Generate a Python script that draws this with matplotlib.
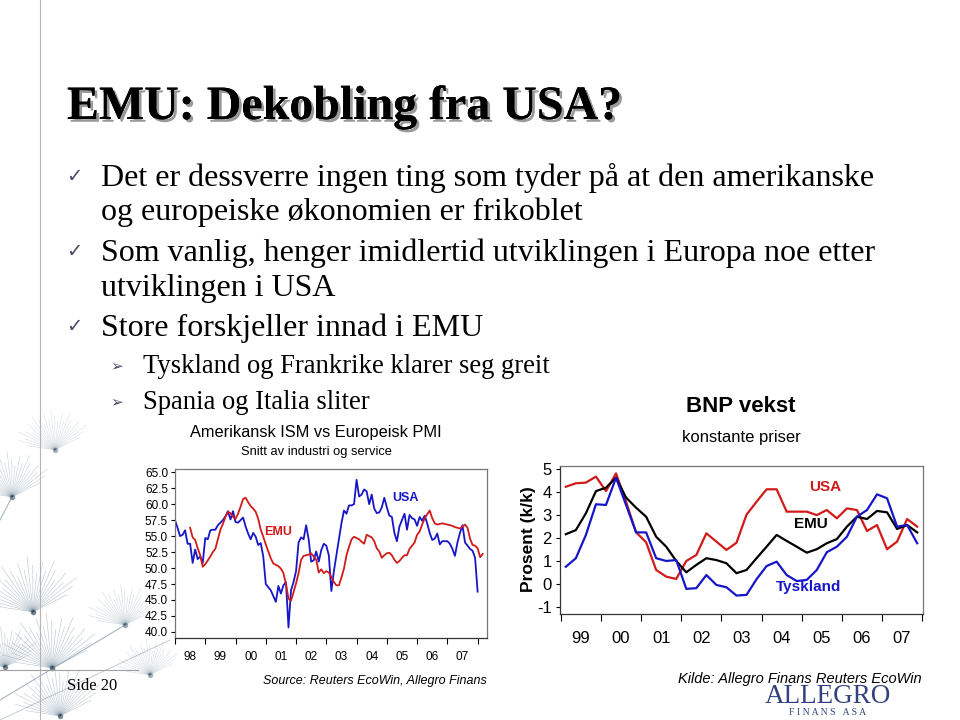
import numpy as np
import matplotlib.pyplot as plt
import matplotlib.patheffects as pe

# --- left chart: ISM (USA) vs PMI (EMU), monthly from Jan 1998 ---
ism_usa = [57.5, 56.3, 55.0, 55.2, 55.9, 53.8, 53.8, 50.8, 52.9, 51.4, 51.8, 50.8,
           54.7, 54.5, 55.9, 56.0, 56.0, 56.7, 57.1, 57.5, 58.1, 58.9, 57.6, 58.9,
           57.2, 57.1, 57.5, 57.9, 56.5, 55.4, 54.5, 55.5, 54.9, 53.6, 53.9, 51.8,
           47.5, 47.0, 46.5, 45.6, 44.7, 47.2, 46.0, 47.3, 47.8, 40.7, 46.5, 47.8,
           49.5, 54.0, 54.8, 54.5, 56.7, 54.5, 51.0, 51.2, 52.6, 51.0, 52.8, 53.8,
           53.5, 52.0, 46.4, 49.5, 52.0, 54.5, 57.0, 59.0, 58.5, 59.8, 59.8, 60.0,
           63.8, 61.2, 61.5, 62.3, 62.0, 60.0, 61.5, 59.3, 58.6, 58.7, 59.5, 61.0,
           59.5, 58.2, 58.0, 55.5, 54.2, 56.5, 57.5, 58.5, 56.0, 58.3, 57.8, 57.6,
           56.6, 58.0, 57.4, 58.2, 57.0, 55.5, 54.4, 54.6, 55.4, 53.7, 54.2, 54.2,
           54.2, 53.8, 53.0, 51.9, 54.0, 55.5, 56.7, 54.0, 53.5, 53.0, 52.7, 51.6,
           46.3]
# EMU PMI starts Jul 1998
pmi_emu_start = 6
pmi_emu = [56.3, 54.8, 54.4, 53.1, 52.0, 50.2,
           50.6, 51.2, 51.8, 52.5, 53.0, 54.5, 56.0, 56.9, 58.0, 58.8, 58.6, 58.0,
           57.7, 58.5, 59.6, 60.8, 61.0, 60.3, 59.7, 59.3, 58.8, 57.7, 56.0, 54.9,
           53.7, 52.6, 51.5, 50.7, 50.5, 50.3, 49.9, 49.2, 47.5, 45.2, 44.9, 46.2,
           47.6, 49.2, 51.3, 51.9, 52.0, 52.1, 52.3, 51.8, 51.3, 49.3, 49.8, 49.2,
           49.5, 49.3, 48.6, 47.8, 47.3, 47.3, 48.5, 49.9, 52.0, 53.3, 54.5, 54.9,
           54.7, 54.5, 54.1, 53.8, 55.2, 55.0, 54.8, 54.2, 53.1, 52.6, 51.6, 52.0,
           52.3, 52.4, 52.0, 51.3, 50.8, 51.1, 51.6, 52.0, 52.0, 53.0, 53.5, 54.0,
           55.2, 55.7, 56.8, 57.8, 58.4, 59.0, 57.8, 57.0, 56.8, 56.9, 57.0, 56.9,
           56.8, 56.7, 56.6, 56.4, 56.3, 56.2, 56.5, 56.8, 56.3, 54.6, 53.6, 53.5,
           53.1, 51.7, 52.2]
left_years = ['98', '99', '00', '01', '02', '03', '04', '05', '06', '07']
left_yticks = [40.0, 42.5, 45.0, 47.5, 50.0, 52.5, 55.0, 57.5, 60.0, 62.5, 65.0]

# --- right chart: BNP vekst, quarterly 1999Q1-2007Q4 ---
gdp_usa = [4.23, 4.38, 4.41, 4.67, 4.04, 4.81, 3.58, 2.25, 1.82, 0.62, 0.33, 0.23,
           1.01, 1.27, 2.21, 1.85, 1.49, 1.80, 3.02, 3.58, 4.12, 4.12, 3.15, 3.15,
           3.15, 3.00, 3.22, 2.86, 3.29, 3.22, 2.31, 2.57, 1.52, 1.85, 2.83, 2.50]
gdp_emu = [2.17, 2.35, 3.08, 4.04, 4.19, 4.62, 3.76, 3.32, 2.93, 2.06, 1.63, 1.01,
           0.52, 0.84, 1.13, 1.05, 0.91, 0.48, 0.62, 1.13, 1.63, 2.14, 1.88, 1.63,
           1.37, 1.52, 1.78, 1.96, 2.50, 2.93, 2.83, 3.18, 3.12, 2.40, 2.57, 2.25]
gdp_ger = [0.76, 1.13, 2.14, 3.47, 3.44, 4.62, 3.44, 2.25, 2.25, 1.13, 1.01, 1.05,
           -0.20, -0.17, 0.40, -0.03, -0.13, -0.49, -0.46, 0.22, 0.79, 0.98, 0.40, 0.14,
           0.19, 0.62, 1.39, 1.63, 2.06, 2.93, 3.22, 3.90, 3.73, 2.50, 2.57, 1.78]
right_years = ['99', '00', '01', '02', '03', '04', '05', '06', '07']
right_yticks = [-1, 0, 1, 2, 3, 4, 5]

bullets = [['Det er dessverre ingen ting som tyder på at den amerikanske',
            'og europeiske økonomien er frikoblet'],
           ['Som vanlig, henger imidlertid utviklingen i Europa noe etter',
            'utviklingen i USA'],
           ['Store forskjeller innad i EMU']]
sub_bullets = ['Tyskland og Frankrike klarer seg greit', 'Spania og Italia sliter']

BLUE = '#1616c8'
RED = '#d21a1a'
SERIF = 'Liberation Serif'
SANS = 'Liberation Sans'

fig = plt.figure(figsize=(9.6, 7.2), dpi=100)
bg = fig.add_axes([0, 0, 1, 1])
bg.set_xlim(0, 960)
bg.set_ylim(720, 0)
bg.axis('off')

# faint dandelion seeds in the lower left corner (decoration)
seed_heads = [(55, 450, 40, 0.30), (12, 497, 45, 0.45), (33, 612, 55, 0.55),
              (125, 625, 40, 0.35), (52, 668, 55, 0.55), (5, 667, 40, 0.5),
              (60, 716, 50, 0.5), (150, 675, 35, 0.3)]
fan = np.linspace(np.pi * 0.15, np.pi * 0.95, 26)
for cx, cy, r, a in seed_heads:
    for k, ang in enumerate(fan):
        rr = r * (0.7 + 0.3 * ((k * 7) % 5) / 4)
        bg.plot([cx, cx + rr * np.cos(ang)], [cy, cy - rr * np.sin(ang)],
                color='#4f6f86', lw=0.5, alpha=a * 0.6, zorder=0)
    bg.plot([cx], [cy], 'o', ms=3, color='#2c3e4c', alpha=a, zorder=0)
bg.plot([0, 125], [700, 625], color='#4f6f86', lw=0.8, alpha=0.5, zorder=0)
bg.plot([0, 170], [720, 640], color='#4f6f86', lw=0.6, alpha=0.4, zorder=0)
bg.plot([0, 12], [520, 497], color='#4f6f86', lw=0.8, alpha=0.5, zorder=0)

# slide frame lines
bg.plot([40, 40], [0, 720], color='#b4b4b4', lw=0.8)
bg.plot([0, 138], [670, 670], color='#a0a0a0', lw=0.8)

# slide title with shadow
bg.text(67, 119, 'EMU: Dekobling fra USA?', family=SERIF, weight='bold',
        fontsize=34.5, color='black', va='baseline',
        path_effects=[pe.withSimplePatchShadow(offset=(2, -2), shadow_rgbFace='#9a9a9a', alpha=1),
                      pe.Normal()])

# bullets
line_y = [[186, 220], [261, 296], [336]]
for ys, lines in zip(line_y, bullets):
    bg.text(66, ys[0] - 4, '\u2713', family='DejaVu Sans', fontsize=14,
            color='#4a4a6a', va='baseline')
    for y, txt in zip(ys, lines):
        bg.text(101, y, txt, family=SERIF, fontsize=23, va='baseline')
for y, txt in zip([373, 409], sub_bullets):
    bg.text(110, y - 3, '\u27a2', family='DejaVu Sans', fontsize=11,
            color='#4a4a6a', va='baseline')
    bg.text(143, y, txt, family=SERIF, fontsize=19.2, va='baseline')

bg.text(67, 690, 'Side 20', family=SERIF, fontsize=12, va='baseline')

# logo (partly hidden behind the source text)
bg.text(828, 703, 'ALLEGRO', family=SERIF, fontsize=19.5, color='#33427e', ha='center', va='baseline')
bg.text(828, 715, 'F I N A N S   A S A', family=SERIF, fontsize=7, color='#33427e', ha='center', va='baseline')

# ---------- left chart ----------
ax1 = fig.add_axes([175 / 960, 82 / 720, 312 / 960, 169 / 720])
t_usa = 1998 + np.arange(len(ism_usa)) / 12
t_emu = 1998 + (pmi_emu_start + np.arange(len(pmi_emu))) / 12
ax1.plot(t_usa, ism_usa, color=BLUE, lw=1.3)
ax1.plot(t_emu, pmi_emu, color=RED, lw=1.3)
ax1.set_xlim(1998, 2008.31)
ax1.set_ylim(39.05, 65.5)
ax1.set_yticks(left_yticks)
ax1.set_yticklabels([f'{v:.1f}' for v in left_yticks], family=SANS, fontsize=8.5)
ax1.set_xticks(np.arange(1998, 2009))
ax1.set_xticklabels([])
ax1.set_xticks(1998.5 + np.arange(len(left_years)), minor=True)
ax1.set_xticklabels(left_years, minor=True, family=SANS, fontsize=8.5)
ax1.tick_params(axis='x', which='major', length=4, direction='out')
ax1.tick_params(axis='x', which='minor', length=0, pad=9)
ax1.tick_params(axis='y', length=3, pad=2)
for s in ax1.spines.values():
    s.set_color('#777777')
    s.set_linewidth(0.9)
ax1.spines['bottom'].set_color('#333333')
ax1.text(0.33, 0.63, 'EMU', transform=ax1.transAxes, color=RED, weight='bold',
         family=SANS, fontsize=9, ha='center', va='center')
ax1.text(0.74, 0.83, 'USA', transform=ax1.transAxes, color=BLUE, weight='bold',
         family=SANS, fontsize=9, ha='center', va='center')
fig.text(316 / 960, 1 - 433 / 720, 'Amerikansk ISM vs Europeisk PMI', family=SANS,
         fontsize=11.8, ha='center', va='center')
fig.text(316 / 960, 1 - 452 / 720, 'Snitt av industri og service', family=SANS,
         fontsize=9.3, ha='center', va='center')
fig.text(487 / 960, 1 - 681 / 720, 'Source: Reuters EcoWin, Allegro Finans', family=SANS,
         style='italic', fontsize=9, ha='right', va='center')

# ---------- right chart ----------
ax2 = fig.add_axes([560 / 960, 106 / 720, 363 / 960, 148 / 720])
t_q = 1999 + (np.arange(len(gdp_usa)) + 0.5) / 4
ax2.plot(t_q, gdp_usa, color=RED, lw=1.6)
ax2.plot(t_q, gdp_emu, color='black', lw=1.6)
ax2.plot(t_q, gdp_ger, color=BLUE, lw=1.6)
ax2.set_xlim(1998.98, 2008.02)
ax2.set_ylim(-1.29, 5.13)
ax2.set_yticks(right_yticks)
ax2.set_yticklabels([str(v) for v in right_yticks], family=SANS, fontsize=12)
ax2.set_xticks(np.arange(1999, 2009))
ax2.set_xticklabels([])
ax2.set_xticks(1999.5 + np.arange(len(right_years)), minor=True)
ax2.set_xticklabels(right_years, minor=True, family=SANS, fontsize=12)
ax2.tick_params(axis='x', which='major', length=5, direction='out')
ax2.tick_params(axis='x', which='minor', length=0, pad=12)
ax2.tick_params(axis='y', length=3, pad=3)
for s in ax2.spines.values():
    s.set_color('#777777')
    s.set_linewidth(0.9)
ax2.spines['bottom'].set_color('#333333')
ax2.spines['left'].set_color('#333333')
ax2.text(0.73, 0.86, 'USA', transform=ax2.transAxes, color=RED, weight='bold',
         family=SANS, fontsize=11, ha='center', va='center')
ax2.text(0.69, 0.61, 'EMU', transform=ax2.transAxes, color='black', weight='bold',
         family=SANS, fontsize=11, ha='center', va='center')
ax2.text(0.684, 0.18, 'Tyskland', transform=ax2.transAxes, color=BLUE, weight='bold',
         family=SANS, fontsize=11, ha='center', va='center')
fig.text(528 / 960, 1 - 539 / 720, 'Prosent (k/k)', family=SANS, weight='bold',
         fontsize=12.5, rotation=90, ha='center', va='center')
fig.text(741 / 960, 1 - 407 / 720, 'BNP vekst', family=SANS, weight='bold',
         fontsize=16, ha='center', va='center')
fig.text(741 / 960, 1 - 438 / 720, 'konstante priser', family=SANS,
         fontsize=12, ha='center', va='center')
fig.text(922 / 960, 1 - 679 / 720, 'Kilde: Allegro Finans Reuters EcoWin', family=SANS,
         style='italic', fontsize=10.5, ha='right', va='center')

fig.savefig('out.png', dpi=100, facecolor='white')
